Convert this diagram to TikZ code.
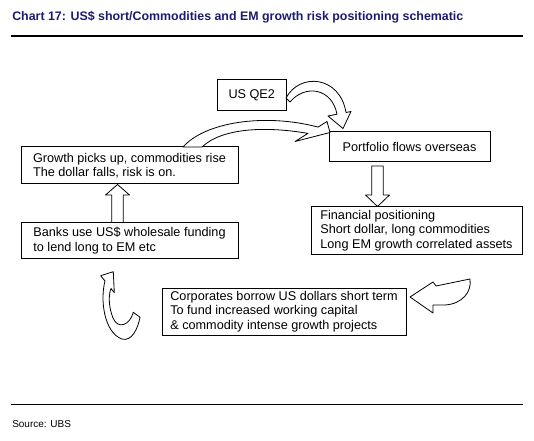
\documentclass[tikz,border=0pt]{standalone}
\usepackage{fontspec}
\setmainfont{Liberation Sans}
\definecolor{chartnavy}{RGB}{28,28,110}
\begin{document}
\begin{tikzpicture}[x=0.75pt,y=-0.75pt,
  box/.style={draw,line width=0.75pt,fill=white,align=left,inner sep=0pt,font=\fontsize{9.5}{10.9}\selectfont},
  blockarrow/.style={draw,line width=0.6pt,fill=white,line join=round}]
\useasboundingbox (0,0) rectangle (534,441);

% Title and rules
\node[anchor=base west,inner sep=0pt,text=chartnavy,font=\bfseries\fontsize{9.3}{11}\selectfont] (title) at (12,20.5)
  {Chart 17: US\$ short/Commodities and EM growth risk positioning schematic};
\draw[line width=1pt] (11,36) -- (523,36);
\draw[line width=1pt] (11,404.5) -- (523,404.5);
\node[anchor=base west,inner sep=0pt,font=\fontsize{7.5}{9}\selectfont] (source) at (12,427) {Source: UBS};

% Boxes
\node[box,minimum width=51.4pt,minimum height=23.25pt] (qe) at (251.75,95.5) {US QE2};
\node[box,minimum width=120.75pt,minimum height=22.5pt] (port) at (409.5,147) {Portfolio flows overseas};
\node[box,minimum width=162.75pt,minimum height=27.75pt] (grow) at (129.5,165.5)
  {Growth picks up, commodities rise\\The dollar falls, risk is on.};
\node[box,minimum width=158.25pt,minimum height=35.25pt] (fin) at (416.5,230.5)
  {Financial positioning\\Short dollar, long commodities\\Long EM growth correlated assets};
\node[box,minimum width=162.75pt,minimum height=26.25pt] (banks) at (129.5,240.5)
  {Banks use US\$ wholesale funding\\to lend long to EM etc};
\node[box,minimum width=183pt,minimum height=35.25pt] (corp) at (284,311.5)
  {Corporates borrow US dollars short term\\To fund increased working capital\\\& commodity intense growth projects};

% QE2 -> portfolio flows
\draw[blockarrow] (286,98) .. controls (300,72) and (340,76) .. (346,112.5) -- (351,111.5) -- (343,128.5)
  -- (328,116) -- (337,114.2) .. controls (332,88) and (305,84) .. (290,102) -- cycle;

% growth -> portfolio flows (over the top)
\draw[blockarrow] (183,147) .. controls (205,122) and (265,113) .. (318,127.1) -- (327,121.5) -- (330,132.5)
  -- (295,141.5) -- (308,133.4) .. controls (265,126) and (222,128) .. (202,147) -- cycle;

% portfolio flows -> financial positioning
\draw[blockarrow] (371.7,166) -- (371.7,195) -- (365.5,195) -- (fin.north -| 377.5,0) -- (389.5,195)
  -- (383.3,195) -- (383.3,166) -- cycle;

% financial positioning -> corporates
\draw[blockarrow] (410,297) -- (433,282) -- (436,286) -- (470,279) .. controls (472,292) and (462,304) .. (445,305)
  -- (433,305) -- (433,313) -- cycle;

% corporates -> banks (curl)
\draw[blockarrow] (105,281) .. controls (100,300) and (104,332) .. (121.7,339) .. controls (132,342) and (138,328) .. (140,317.3)
  -- (133.3,312.3) .. controls (130,325) and (118,330) .. (113,318) .. controls (109,308) and (108,296) .. (111,288.5)
  -- (114.3,292.7) -- (113.3,271.7) -- (100.7,275.7) -- cycle;

% banks -> growth
\draw[blockarrow] (banks.north -| 111.7,0) -- (111.7,195) -- (105.5,195) -- (grow.south -| 117.5,0) -- (129.5,195)
  -- (123.3,195) -- (banks.north -| 123.3,0) -- cycle;
\end{tikzpicture}
\end{document}
